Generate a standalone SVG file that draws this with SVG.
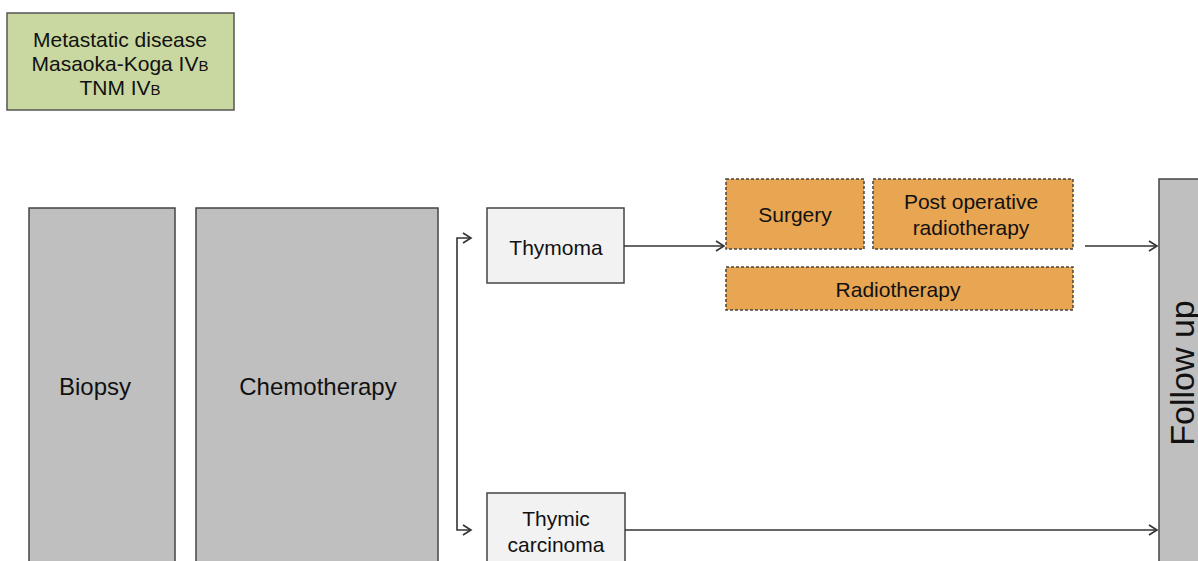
<svg xmlns="http://www.w3.org/2000/svg" width="1198" height="561" viewBox="0 0 1198 561">
<defs>
<marker id="arr" markerWidth="12" markerHeight="12" refX="10" refY="6" orient="auto" markerUnits="userSpaceOnUse">
<path d="M2,1 L10,6 L2,11" fill="none" stroke="#333" stroke-width="1.6"/>
</marker>
</defs>
<style>
text{font-family:"Liberation Sans",Arial,sans-serif;fill:#111;text-anchor:middle}
.gray{fill:#bfbfbf;stroke:#444;stroke-width:1.5}
.light{fill:#f2f2f2;stroke:#444;stroke-width:1.5}
.orange{fill:#e8a552;stroke:#444;stroke-width:1.5;stroke-dasharray:3,2}
.green{fill:#c9d8a0;stroke:#555;stroke-width:1.5}
.conn{fill:none;stroke:#333;stroke-width:1.6}
</style>
<rect width="1198" height="561" fill="#fff"/>
<g id="stage">
<rect class="green" x="7" y="13" width="227" height="97"/>
<text font-size="21"><tspan x="120" y="47">Metastatic disease</tspan><tspan x="120" y="71">Masaoka-Koga IV<tspan font-size="15">B</tspan></tspan><tspan x="120" y="95">TNM IV<tspan font-size="15">B</tspan></tspan></text>
</g>
<g id="biopsy">
<rect class="gray" x="29" y="208" width="146" height="360"/>
<text x="95" y="395" font-size="24">Biopsy</text>
</g>
<g id="chemo">
<rect class="gray" x="196" y="208" width="242" height="360"/>
<text x="318" y="395" font-size="24">Chemotherapy</text>
</g>
<g id="thymoma">
<rect class="light" x="487" y="208" width="137" height="75"/>
<text x="556" y="255" font-size="21">Thymoma</text>
</g>
<g id="carcinoma">
<rect class="light" x="487" y="493" width="138" height="80"/>
<text font-size="21"><tspan x="556" y="526">Thymic</tspan><tspan x="556" y="552">carcinoma</tspan></text>
</g>
<g id="surgery">
<rect class="orange" x="726" y="179" width="138" height="70"/>
<text x="795" y="222" font-size="21">Surgery</text>
</g>
<g id="postop">
<rect class="orange" x="873" y="179" width="200" height="70"/>
<text font-size="21"><tspan x="971" y="209">Post operative</tspan><tspan x="971" y="235">radiotherapy</tspan></text>
</g>
<g id="radio">
<rect class="orange" x="726" y="267" width="347" height="43"/>
<text x="898" y="297" font-size="21">Radiotherapy</text>
</g>
<g id="followup">
<rect class="gray" x="1159" y="179" width="50" height="400"/>
<text transform="translate(1194,373) rotate(-90)" font-size="34">Follow up</text>
</g>
<g id="connectors">
<path class="conn" d="M457,384 L457,238 L471,238" marker-end="url(#arr)"/>
<path class="conn" d="M457,384 L457,530 L471,530" marker-end="url(#arr)"/>
<path class="conn" d="M624,246 L724,246" marker-end="url(#arr)"/>
<path class="conn" d="M1085,246 L1157,246" marker-end="url(#arr)"/>
<path class="conn" d="M625,530 L1157,530" marker-end="url(#arr)"/>
</g>
</svg>
